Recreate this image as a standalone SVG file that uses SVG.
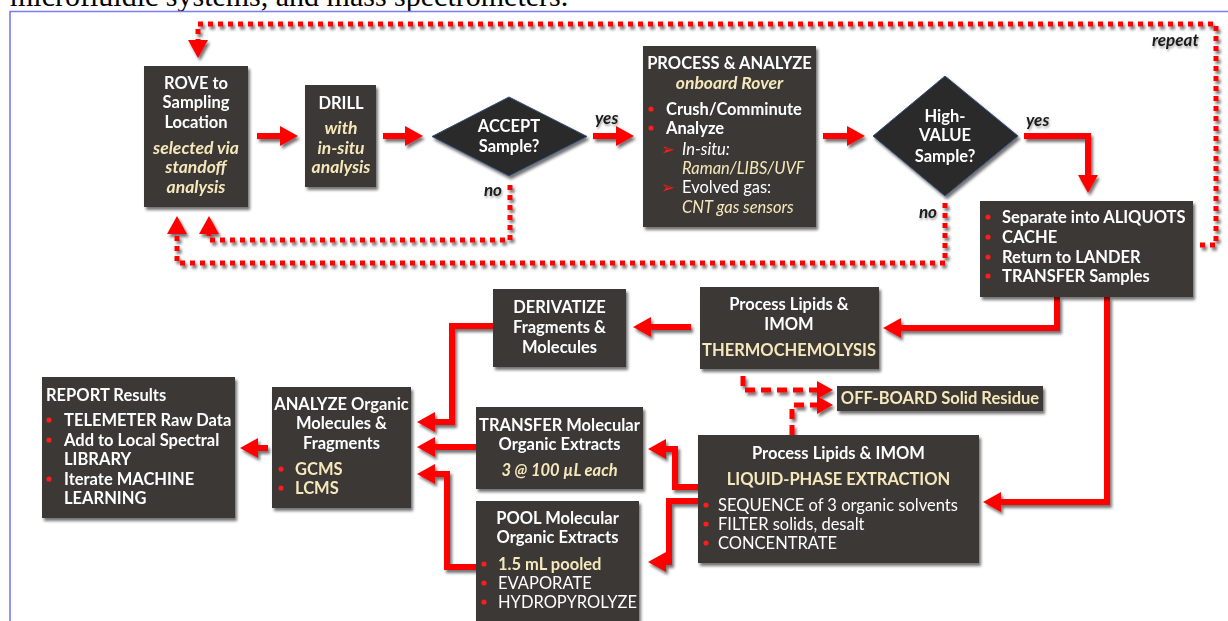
<svg xmlns="http://www.w3.org/2000/svg" width="1228" height="621" viewBox="0 0 1228 621">
<defs>
<style>
.box{fill:#3a3836}
.dia{fill:#2a2a2a;stroke:#34507f;stroke-width:1}
.t{font-family:Lato,"Open Sans","Noto Sans",sans-serif;font-weight:700;font-size:16.5px;fill:#ffffff}
.m{text-anchor:middle}
.c{fill:#f7e8bb}
.i{font-style:italic}
.n{font-weight:400}
.big{font-size:17.5px}
.lbl{font-family:Lato,"Open Sans",sans-serif;font-weight:700;font-style:italic;font-size:17px;fill:#1a1a1a}
.bul{fill:#ff1a1a}
.cn{fill:none;stroke:#ff0000;stroke-linejoin:miter;stroke-miterlimit:10}
.solid{stroke-width:6;marker-end:url(#ah)}
.dot{stroke-width:5;stroke-dasharray:5 5;marker-end:url(#ah)}
.dash{stroke-width:5;stroke-dasharray:10 6;marker-end:url(#ahs)}
</style>
<marker id="ah" markerUnits="userSpaceOnUse" markerWidth="19" markerHeight="20" refX="8" refY="10" orient="auto" viewBox="0 0 19 20">
<path d="M0,0 L18,10 L0,20 Z" fill="#ff0000"/>
</marker>
<marker id="ahs" markerUnits="userSpaceOnUse" markerWidth="17" markerHeight="18" refX="7" refY="9" orient="auto" viewBox="0 0 17 18">
<path d="M0,0 L16,9 L0,18 Z" fill="#ff0000"/>
</marker>
<filter id="sh" x="-10%" y="-10%" width="130%" height="140%">
<feDropShadow dx="2" dy="3" stdDeviation="1.6" flood-color="#000" flood-opacity="0.55"/>
</filter>
<filter id="shl" x="-20%" y="-20%" width="150%" height="160%">
<feDropShadow dx="1" dy="2" stdDeviation="1.2" flood-color="#000" flood-opacity="0.35"/>
</filter>
</defs>
<rect width="1228" height="621" fill="#ffffff"/>
<text x="10" y="6" font-family="Liberation Serif,serif" font-size="30" fill="#000">microfluidic systems, and mass spectrometers.</text>
<path d="M10,621 V11.5 H1228" fill="none" stroke="#7a7af5" stroke-width="1.6"/>

<g id="connectors" filter="url(#sh)">
<path class="cn solid" d="M257,136 H288"/>
<path class="cn solid" d="M383,136 H413"/>
<path class="cn solid" d="M593,136 H624"/>
<path class="cn solid" d="M823,136 H855"/>
<path class="cn solid" d="M1024,136 H1088 V183"/>
<path class="cn solid" d="M691,327 H643"/>
<path class="cn solid" d="M1057,297 V328 H893"/>
<path class="cn solid" d="M1107,297 V502 H993"/>
<path class="cn solid" d="M698,487 H675 V449 H658"/>
<path class="cn solid" d="M698,501 H669 V562 H658"/>
<path class="cn solid" d="M493,326 H452 V422 H427"/>
<path class="cn solid" d="M476,447 H427"/>
<path class="cn solid" d="M476,567 H447 V474 H427"/>
<path class="cn solid" d="M268,448 H250"/>
<path class="cn dot" d="M510,185 V240 H209 V226"/>
<path class="cn dot" d="M945,203 V263 H177 V226"/>
<path class="cn dot" d="M1200,245 H1216 V24 H198 V48"/>
<path class="cn dash" d="M743,376 V390 H824"/>
<path class="cn dash" d="M792,435 V405 H824"/>
</g>

<g id="labels" filter="url(#shl)">
<text class="lbl" x="595" y="124">yes</text>
<text class="lbl" x="502" y="196" text-anchor="end">no</text>
<text class="lbl" x="1026" y="126">yes</text>
<text class="lbl" x="937" y="218" text-anchor="end">no</text>
<text class="lbl" x="1152" y="46">repeat</text>
</g>

<g id="rove" filter="url(#sh)">
<rect class="box" x="144" y="66" width="104" height="141"/>
<text class="t m" x="196" y="89">ROVE to</text>
<text class="t m" x="196" y="108">Sampling</text>
<text class="t m" x="196" y="128">Location</text>
<text class="t m c i big" x="196" y="154">selected via</text>
<text class="t m c i big" x="196" y="173">standoff</text>
<text class="t m c i big" x="196" y="193">analysis</text>
</g>

<g id="drill" filter="url(#sh)">
<rect class="box" x="305" y="85" width="71" height="102"/>
<text class="t m" x="341" y="109">DRILL</text>
<text class="t m c i big" x="341" y="134">with</text>
<text class="t m c i big" x="341" y="154">in-situ</text>
<text class="t m c i big" x="341" y="173">analysis</text>
</g>

<g id="accept" filter="url(#sh)">
<polygon class="dia" points="432,136.5 509,97 587,136.5 509,176"/>
<text class="t m" x="509" y="132">ACCEPT</text>
<text class="t m" x="509" y="152">Sample?</text>
</g>

<g id="process" filter="url(#sh)">
<rect class="box" x="643" y="46" width="173" height="181"/>
<text class="t m" x="729.5" y="69">PROCESS &amp; ANALYZE</text>
<text class="t m c i big" x="729.5" y="89">onboard Rover</text>
<circle class="bul" cx="651" cy="109" r="2.6"/>
<text class="t" x="666" y="115">Crush/Comminute</text>
<circle class="bul" cx="651" cy="128" r="2.6"/>
<text class="t" x="666" y="134">Analyze</text>
<text class="t n" x="661" y="155" font-size="13" style="font-family:'DejaVu Sans',sans-serif;fill:#ff1a1a">➢</text>
<text class="t n i" x="682" y="155">In-situ:</text>
<text class="t n i c" x="682" y="174">Raman/LIBS/UVF</text>
<text class="t n" x="661" y="193" font-size="13" style="font-family:'DejaVu Sans',sans-serif;fill:#ff1a1a">➢</text>
<text class="t n" x="682" y="193">Evolved gas:</text>
<text class="t n i c" x="682" y="213">CNT gas sensors</text>
</g>

<g id="highvalue" filter="url(#sh)">
<polygon class="dia" points="873,136 945,76 1018,136 945,196"/>
<text class="t m" x="945" y="122">High-</text>
<text class="t m" x="945" y="141">VALUE</text>
<text class="t m" x="945" y="162">Sample?</text>
</g>

<g id="aliquots" filter="url(#sh)">
<rect class="box" x="980" y="201" width="213" height="96"/>
<circle class="bul" cx="988" cy="217" r="2.6"/>
<text class="t" x="1002" y="223">Separate into ALIQUOTS</text>
<circle class="bul" cx="988" cy="237" r="2.6"/>
<text class="t" x="1002" y="243">CACHE</text>
<circle class="bul" cx="988" cy="257" r="2.6"/>
<text class="t" x="1002" y="263">Return to LANDER</text>
<circle class="bul" cx="988" cy="276" r="2.6"/>
<text class="t" x="1002" y="282">TRANSFER Samples</text>
</g>

<g id="thermo" filter="url(#sh)">
<rect class="box" x="700" y="287" width="179" height="82"/>
<text class="t m" x="789" y="310">Process Lipids &amp;</text>
<text class="t m" x="789" y="330">IMOM</text>
<text class="t m c" x="789" y="356">THERMOCHEMOLYSIS</text>
</g>

<g id="derivatize" filter="url(#sh)">
<rect class="box" x="493" y="289" width="133" height="78"/>
<text class="t m" x="559.5" y="313">DERIVATIZE</text>
<text class="t m" x="559.5" y="333">Fragments &amp;</text>
<text class="t m" x="559.5" y="353">Molecules</text>
</g>

<g id="offboard" filter="url(#sh)">
<rect class="box" x="837" y="386" width="206" height="25"/>
<text class="t m c" x="940" y="404">OFF-BOARD Solid Residue</text>
</g>

<g id="liquid" filter="url(#sh)">
<rect class="box" x="698" y="435" width="281" height="128"/>
<text class="t m" x="838.5" y="459">Process Lipids &amp; IMOM</text>
<text class="t m c" x="838.5" y="485">LIQUID-PHASE EXTRACTION</text>
<circle class="bul" cx="706" cy="505" r="2.6"/>
<text class="t n" x="718" y="511">SEQUENCE of 3 organic solvents</text>
<circle class="bul" cx="706" cy="524" r="2.6"/>
<text class="t n" x="718" y="530">FILTER solids, desalt</text>
<circle class="bul" cx="706" cy="543" r="2.6"/>
<text class="t n" x="718" y="549">CONCENTRATE</text>
</g>

<g id="report" filter="url(#sh)">
<rect class="box" x="42" y="377" width="193" height="141"/>
<text class="t" x="46" y="401">REPORT Results</text>
<circle class="bul" cx="49" cy="420" r="2.6"/>
<text class="t" x="64" y="426">TELEMETER Raw Data</text>
<circle class="bul" cx="49" cy="440" r="2.6"/>
<text class="t" x="64" y="446">Add to Local Spectral</text>
<text class="t" x="64" y="465">LIBRARY</text>
<circle class="bul" cx="49" cy="479" r="2.6"/>
<text class="t" x="64" y="485">Iterate MACHINE</text>
<text class="t" x="64" y="504">LEARNING</text>
</g>

<g id="analyze" filter="url(#sh)">
<rect class="box" x="272" y="387" width="139" height="121"/>
<text class="t m" x="341.5" y="410">ANALYZE Organic</text>
<text class="t m" x="341.5" y="429">Molecules &amp;</text>
<text class="t m" x="341.5" y="449">Fragments</text>
<circle class="bul" cx="281" cy="469" r="2.6"/>
<text class="t c" x="295" y="475">GCMS</text>
<circle class="bul" cx="281" cy="488" r="2.6"/>
<text class="t c" x="295" y="494">LCMS</text>
</g>

<g id="transfer" filter="url(#sh)">
<rect class="box" x="476" y="407" width="167" height="82"/>
<text class="t m" x="559.5" y="431">TRANSFER Molecular</text>
<text class="t m" x="559.5" y="450">Organic Extracts</text>
<text class="t m c i" x="559.5" y="476">3 @ 100 µL each</text>
</g>

<g id="pool" filter="url(#sh)">
<rect class="box" x="476" y="501" width="163" height="125"/>
<text class="t m" x="557.5" y="524">POOL Molecular</text>
<text class="t m" x="557.5" y="543">Organic Extracts</text>
<circle class="bul" cx="484" cy="564" r="2.6"/>
<text class="t c" x="498" y="570">1.5 mL pooled</text>
<circle class="bul" cx="484" cy="583" r="2.6"/>
<text class="t n" x="498" y="589">EVAPORATE</text>
<circle class="bul" cx="484" cy="602" r="2.6"/>
<text class="t n" x="498" y="608">HYDROPYROLYZE</text>
</g>
</svg>
